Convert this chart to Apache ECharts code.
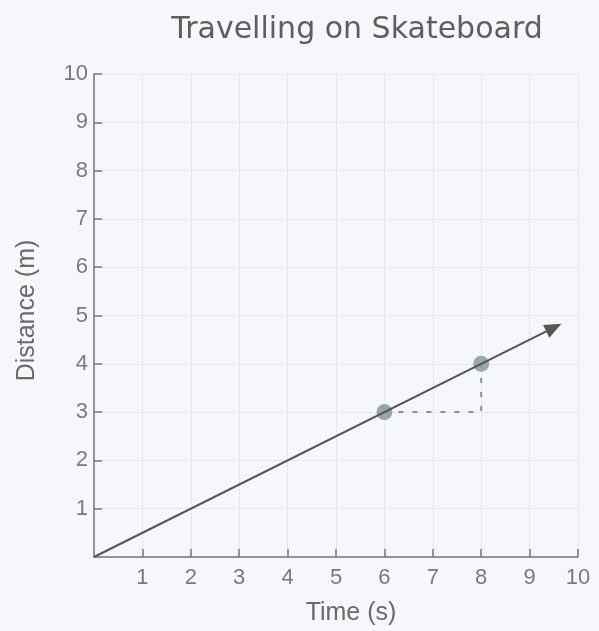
<!DOCTYPE html>
<html>
<head>
<meta charset="utf-8">
<script src="https://cdn.jsdelivr.net/npm/echarts@6/dist/echarts.min.js"></script>
<style>
  html, body { margin: 0; padding: 0; background: #f5f7fa; }
  #chart { width: 599px; height: 631px; }
</style>
</head>
<body>
<div id="chart"></div>
<script>
// axis ranges (0..10 on both)
const xTicks = [0, 1, 2, 3, 4, 5, 6, 7, 8, 9, 10]
const yTicks = [0, 1, 2, 3, 4, 5, 6, 7, 8, 9, 10]

// skateboard line: from origin to arrow head
const lineStart = [0, 0]
const lineEnd = [9.5, 4.75]

// the two marked points and the rise/run guide
const markedPoints = [[6, 3], [8, 4]]
const riseRun = [[6, 3], [8, 3], [8, 4]]

const chart = echarts.init(document.getElementById('chart'))

const labelFont = { fontFamily: 'Liberation Sans', fontSize: 22, color: '#7a7a7a' }

const axisCommon = {
  type: 'value',
  min: xTicks[0],
  max: xTicks[xTicks.length - 1],
  interval: 1,
  axisLine: { lineStyle: { color: '#777', width: 1.5 } },
  axisTick: { inside: true, length: 8, lineStyle: { color: '#777', width: 1.5 } },
  splitLine: { lineStyle: { color: '#e4e8ed', width: 1 } },
  nameLocation: 'middle',
  nameTextStyle: { fontFamily: 'Liberation Sans', fontSize: 25, color: '#6a6a6a' }
}

const option = {
  backgroundColor: '#f5f7fa',
  animation: false,
  title: {
    text: 'Travelling on Skateboard',
    left: 352,
    top: 10,
    textAlign: 'center',
    textStyle: { fontFamily: 'DejaVu Sans', fontSize: 30, fontWeight: 'normal', color: '#5e5e5e' }
  },
  grid: { left: 94, top: 74, right: 21, bottom: 73 },
  xAxis: Object.assign({}, axisCommon, {
    name: 'Time (s)',
    nameGap: 44,
    nameTextStyle: Object.assign({}, axisCommon.nameTextStyle, { padding: [0, 0, 0, 30] }),
    axisLabel: Object.assign({ showMinLabel: false, margin: 10 }, labelFont)
  }),
  yAxis: Object.assign({}, axisCommon, {
    min: yTicks[0],
    max: yTicks[yTicks.length - 1],
    name: 'Distance (m)',
    nameGap: 54,
    nameTextStyle: Object.assign({}, axisCommon.nameTextStyle, { padding: [0, 0, 0, 10] }),
    axisLabel: Object.assign({ showMinLabel: false, margin: 6 }, labelFont)
  }),
  series: [
    {
      // dashed rise / run guide
      type: 'line',
      data: riseRun,
      symbol: 'none',
      lineStyle: { color: '#8a8f95', width: 2, type: [5, 9] },
      z: 2
    },
    {
      // main line with arrow head
      type: 'line',
      data: [],
      markLine: {
        silent: true,
        symbol: ['none', 'triangle'],
        symbolSize: [14, 17],
        label: { show: false },
        lineStyle: { color: '#555', width: 2, type: 'solid' },
        data: [[{ coord: lineStart }, { coord: lineEnd }]]
      },
      z: 3
    },
    {
      type: 'scatter',
      data: markedPoints,
      symbolSize: 16,
      itemStyle: { color: '#8ea09b', opacity: 0.9 },
      z: 4
    }
  ]
}

chart.setOption(option)
</script>
</body>
</html>
